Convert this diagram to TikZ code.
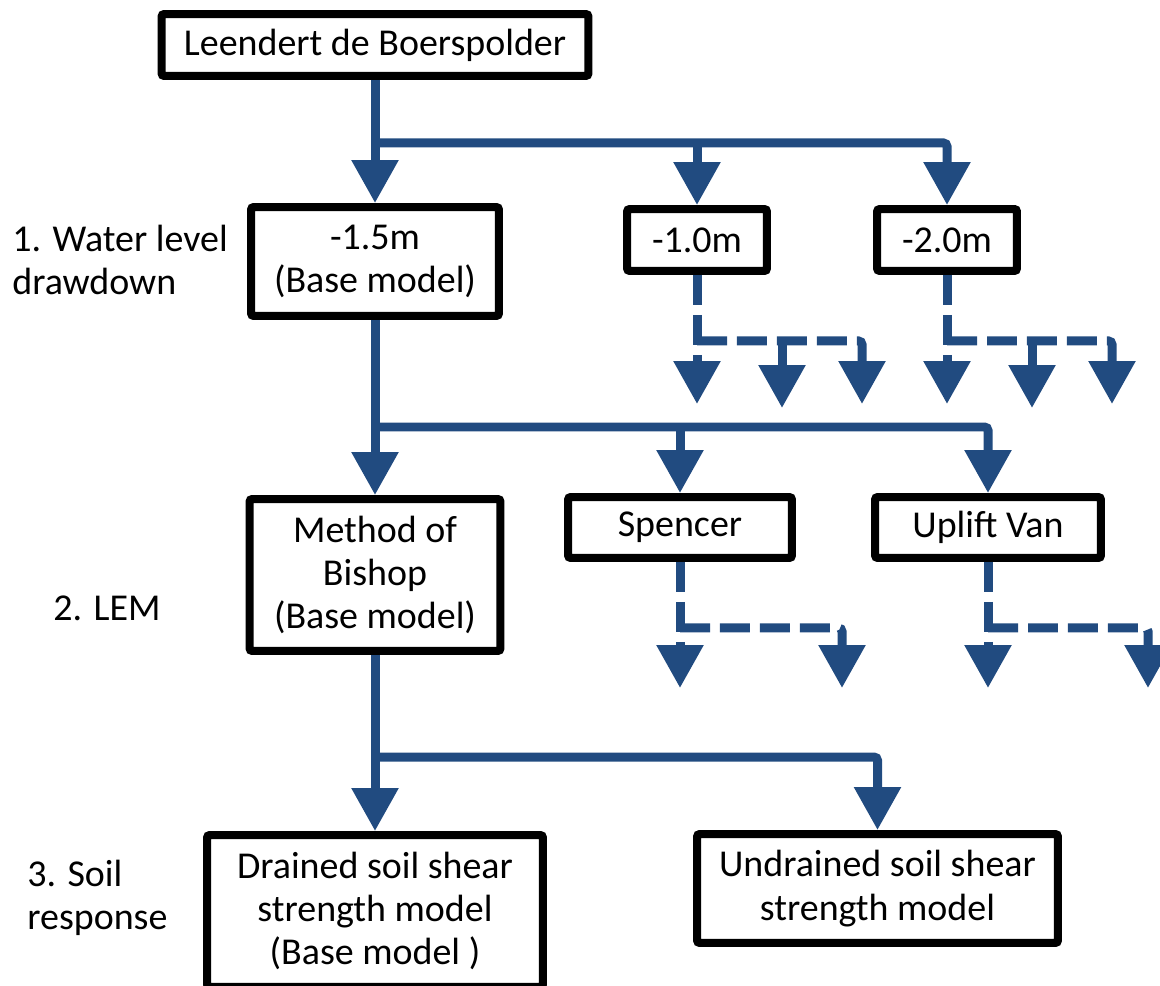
\documentclass[tikz,border=0pt]{standalone}
\usepackage{fontspec}
\setmainfont{Carlito}
\usepackage{xcolor}
\usetikzlibrary{arrows.meta, positioning, calc}

\definecolor{flowblue}{RGB}{33,75,128}

\begin{document}
\begin{tikzpicture}[
    x=0.02cm, y=-0.02cm,
    box/.style={draw, line width=0.16cm, rounded corners=1.5pt, align=center, inner sep=0pt, font=\fontsize{21.6}{24.6}\selectfont},
    lbl/.style={anchor=west, align=left, inner sep=0pt, font=\fontsize{21.6}{24.6}\selectfont},
    arr/.style={draw=flowblue, line width=0.18cm, rounded corners=2pt, -{Triangle[length=0.86cm, width=0.9cm]}},
    darr/.style={arr, dash pattern=on 0.6cm off 0.2cm},
]
\useasboundingbox (0,0) rectangle (1160,986);

% level captions
\node[lbl] (lvl1) at (12,260) {1. Water level\\drawdown};
\node[lbl] (lvl2) at (53,608) {2. LEM};
\node[lbl] (lvl3) at (27,898) {3. Soil\\response};

% boxes
\node[box, minimum width=8.54cm, minimum height=1.24cm] (polder) at (375,45) {Leendert de Boerspolder};
\node[box, minimum width=4.96cm, minimum height=2.18cm] (m15) at (375,261.5) {-1.5m\\(Base model)};
\node[box, minimum width=2.8cm, minimum height=1.24cm] (m10) at (697,240) {-1.0m};
\node[box, minimum width=2.8cm, minimum height=1.24cm] (m20) at (947,240) {-2.0m};
\node[box, minimum width=5.02cm, minimum height=3.04cm] (bishop) at (375,575) {Method of\\Bishop\\(Base model)};
\node[box, minimum width=4.48cm, minimum height=1.22cm] (spencer) at (680,527.5) {Spencer};
\node[box, minimum width=4.52cm, minimum height=1.22cm] (uplift) at (988,527.5) {Uplift Van};
\node[box, minimum width=6.72cm, minimum height=3.04cm] (drained) at (375,911) {Drained soil shear\\strength model\\(Base model )};
\node[box, minimum width=7.22cm, minimum height=2.18cm] (undrained) at (877.5,888.5) {Undrained soil shear\\strength model};

% forks
\coordinate (fork1) at (375,143);
\coordinate (fork2) at (375,427);
\coordinate (fork3) at (375,757);

% water level branches
\draw[arr] (polder) -- (m15);
\draw[arr] (fork1) -| (m20.north);
\draw[arr] (fork1 -| m10.north) -- (m10.north);

% LEM branches
\draw[arr] (m15) -- (bishop);
\draw[arr] (fork2) -| (uplift.north);
\draw[arr] (fork2 -| spencer.north) -- (spencer.north);

% soil response branches
\draw[arr] (bishop) -- (drained);
\draw[arr] (fork3) -| (undrained.north);

% dashed continuations
\coordinate (m10-fork) at ($(m10.south)+(0,66)$);
\coordinate (m10-a) at ($(m10.south)+(0,129)$);
\coordinate (m10-b) at ($(m10.south)+(85,133)$);
\coordinate (m10-c) at ($(m10.south)+(165,129)$);
\draw[darr] (m10.south) -- (m10-a);
\draw[darr] (m10-fork) -| (m10-c);
\draw[darr] (m10-fork -| m10-b) -- (m10-b);

\coordinate (m20-fork) at ($(m20.south)+(0,66)$);
\coordinate (m20-a) at ($(m20.south)+(0,129)$);
\coordinate (m20-b) at ($(m20.south)+(85,133)$);
\coordinate (m20-c) at ($(m20.south)+(165,129)$);
\draw[darr] (m20.south) -- (m20-a);
\draw[darr] (m20-fork) -| (m20-c);
\draw[darr] (m20-fork -| m20-b) -- (m20-b);

\coordinate (spencer-fork) at ($(spencer.south)+(0,66)$);
\coordinate (spencer-a) at ($(spencer.south)+(0,126)$);
\coordinate (spencer-b) at ($(spencer.south)+(162,126)$);
\draw[darr] (spencer.south) -- (spencer-a);
\draw[darr] (spencer-fork) -| (spencer-b);

\coordinate (uplift-fork) at ($(uplift.south)+(0,66)$);
\coordinate (uplift-a) at ($(uplift.south)+(0,126)$);
\coordinate (uplift-b) at ($(uplift.south)+(160,126)$);
\draw[darr] (uplift.south) -- (uplift-a);
\draw[darr] (uplift-fork) -| (uplift-b);
\end{tikzpicture}
\end{document}
